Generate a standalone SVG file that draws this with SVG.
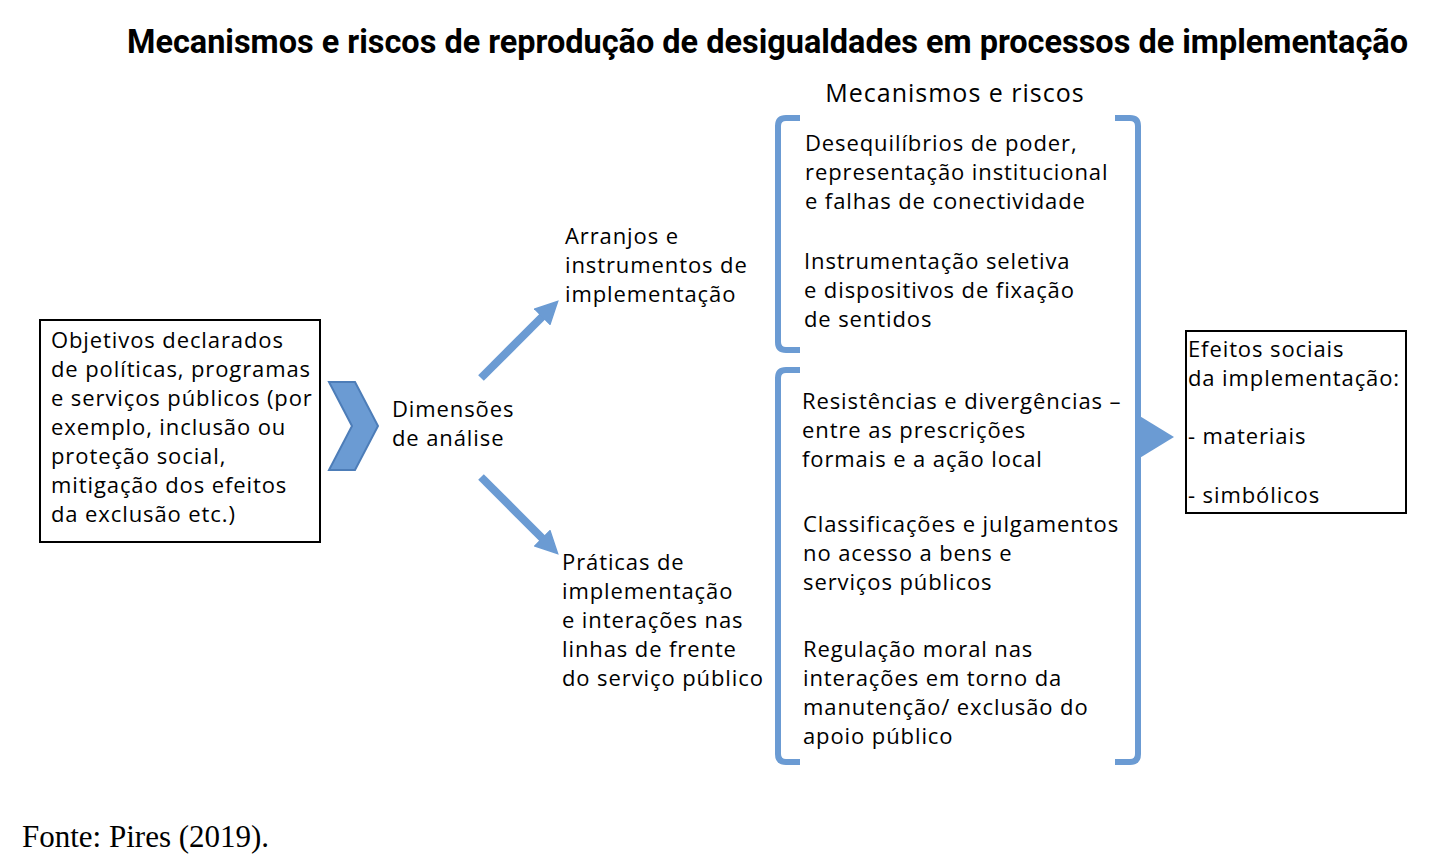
<svg xmlns="http://www.w3.org/2000/svg" width="1446" height="862" viewBox="0 0 1446 862">
<defs>
<style>
.t{font-family:"Open Sans","Noto Sans",sans-serif;font-size:22px;letter-spacing:0.9px;fill:#000}
.title{font-family:Roboto,"Open Sans",sans-serif;font-size:29px;font-weight:bold;fill:#000}
.br{fill:none;stroke:#6b9bd3;stroke-width:6}
.box{fill:#fff;stroke:#000;stroke-width:2}
.arr{stroke:#6b9bd3;stroke-width:8;fill:none}
</style>
<marker id="ah" viewBox="0 0 10 10" refX="6" refY="5" markerWidth="3" markerHeight="3" orient="auto" markerUnits="strokeWidth">
<path d="M0,0 L10,5 L0,10 z" fill="#6b9bd3"/>
</marker>
</defs>
<rect width="1446" height="862" fill="#fff"/>
<text class="title" transform="translate(127,53) scale(1,1.17)" x="0" y="0" textLength="1281" lengthAdjust="spacingAndGlyphs">Mecanismos e riscos de reprodução de desigualdades em processos de implementação</text>

<g id="objetivos">
<rect class="box" x="40" y="320" width="280" height="222"/>
<text class="t" x="51" y="348">Objetivos declarados</text>
<text class="t" x="51" y="377">de políticas, programas</text>
<text class="t" x="51" y="406">e serviços públicos (por</text>
<text class="t" x="51" y="435">exemplo, inclusão ou</text>
<text class="t" x="51" y="464">proteção social,</text>
<text class="t" x="51" y="493">mitigação dos efeitos</text>
<text class="t" x="51" y="522">da exclusão etc.)</text>
</g>

<g id="chevron">
<polygon points="329,382 355,382 378,426 355,470 329,470 352,426" fill="#6b9bd3" stroke="#4d7db8" stroke-width="2"/>
</g>

<g id="dimensoes">
<text class="t" x="392" y="417">Dimensões</text>
<text class="t" x="392" y="446">de análise</text>
</g>

<g id="connectors">
<line class="arr" x1="481" y1="378" x2="552" y2="307" marker-end="url(#ah)"/>
<line class="arr" x1="481" y1="477" x2="552" y2="548" marker-end="url(#ah)"/>
</g>

<g id="arranjos">
<text class="t" x="565" y="244">Arranjos e</text>
<text class="t" x="565" y="273">instrumentos de</text>
<text class="t" x="565" y="302">implementação</text>
</g>

<g id="praticas">
<text class="t" x="562" y="570">Práticas de</text>
<text class="t" x="562" y="599">implementação</text>
<text class="t" x="562" y="628">e interações nas</text>
<text class="t" x="562" y="657">linhas de frente</text>
<text class="t" x="562" y="686">do serviço público</text>
</g>

<g id="mecanismos">
<text class="t" x="955" y="102" text-anchor="middle" style="font-size:25px;letter-spacing:1px">Mecanismos e riscos</text>
<path class="br" d="M800,118 L786,118 Q778,118 778,126 L778,342 Q778,350 786,350 L800,350"/>
<path class="br" d="M800,370 L786,370 Q778,370 778,378 L778,754 Q778,762 786,762 L800,762"/>
<path class="br" d="M1115,118 L1130,118 Q1138,118 1138,126 L1138,754 Q1138,762 1130,762 L1115,762"/>
<polygon points="1138,415 1174,437 1138,459" fill="#6b9bd3"/>
<text class="t" x="805" y="151">Desequilíbrios de poder,</text>
<text class="t" x="805" y="180">representação institucional</text>
<text class="t" x="805" y="209">e falhas de conectividade</text>
<text class="t" x="804" y="269">Instrumentação seletiva</text>
<text class="t" x="804" y="298">e dispositivos de fixação</text>
<text class="t" x="804" y="327">de sentidos</text>
<text class="t" x="802" y="409">Resistências e divergências –</text>
<text class="t" x="802" y="438">entre as prescrições</text>
<text class="t" x="802" y="467">formais e a ação local</text>
<text class="t" x="803" y="532">Classificações e julgamentos</text>
<text class="t" x="803" y="561">no acesso a bens e</text>
<text class="t" x="803" y="590">serviços públicos</text>
<text class="t" x="803" y="657">Regulação moral nas</text>
<text class="t" x="803" y="686">interações em torno da</text>
<text class="t" x="803" y="715">manutenção/ exclusão do</text>
<text class="t" x="803" y="744">apoio público</text>
</g>

<g id="efeitos">
<rect class="box" x="1186" y="331" width="220" height="182"/>
<text class="t" x="1188" y="357">Efeitos sociais</text>
<text class="t" x="1188" y="386">da implementação:</text>
<text class="t" x="1188" y="444">- materiais</text>
<text class="t" x="1188" y="503">- simbólicos</text>
</g>

<text x="22" y="847" style="font-family:'Liberation Serif',serif;font-size:31px">Fonte: Pires (2019).</text>
</svg>
